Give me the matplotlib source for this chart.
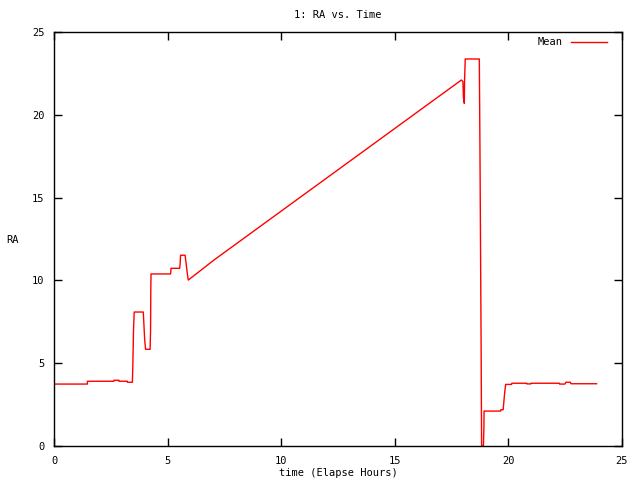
import numpy as np
import matplotlib
matplotlib.use("Agg")
import matplotlib.pyplot as plt

# Mean RA track (elapsed hours, RA hours)
hours = [0.0, 1.47, 1.47, 2.64, 2.64, 2.86, 2.86, 3.23, 3.23, 3.45,
         3.47, 3.50, 3.53, 3.93, 3.99, 4.03, 4.23, 4.25, 4.26, 4.27,
         5.13, 5.14, 5.15, 5.53, 5.55, 5.57, 5.77, 5.87, 5.91, 7.04, 17.93,
         18.0, 18.02, 18.06, 18.07, 18.1, 18.72, 18.75, 18.8, 18.82,
         18.9, 18.92, 18.93, 19.66, 19.67, 19.77, 19.8, 19.84, 19.88,
         20.14, 20.15, 20.8, 20.81, 20.99, 21.0, 22.24, 22.25, 22.49,
         22.53, 22.73, 22.75, 23.88]
ra_mean = [3.74, 3.74, 3.91, 3.91, 3.97, 3.97, 3.91, 3.91, 3.85, 3.85,
           4.89, 7.0, 8.09, 8.09, 6.44, 5.84, 5.84, 6.98, 9.26, 10.39,
           10.39, 10.49, 10.73, 10.73, 10.97, 11.52, 11.52, 10.4, 10.02, 11.23, 22.1,
           22.0, 21.06, 20.69, 22.0, 23.37, 23.37, 17.5, 5.8, 0.0,
           0.0, 1.0, 2.11, 2.11, 2.19, 2.19, 2.68, 3.28, 3.72,
           3.72, 3.79, 3.79, 3.75, 3.75, 3.79, 3.79, 3.74, 3.74,
           3.85, 3.85, 3.76, 3.76]

x_ticks = [0, 5, 10, 15, 20, 25]
y_ticks = [0, 5, 10, 15, 20, 25]

plt.rcParams["font.family"] = ["DejaVu Sans Mono"]
plt.rcParams["font.size"] = 7.5

fig = plt.figure(figsize=(6.4, 4.8), dpi=100)
ax = fig.add_axes([54 / 640, 34 / 480, 568 / 640, 414 / 480])

ax.plot(hours, ra_mean, color="red", linewidth=1.0, label="Mean")

ax.set_xlim(0, 25)
ax.set_ylim(0, 25)
ax.set_xticks(x_ticks)
ax.set_yticks(y_ticks)
ax.tick_params(direction="in", length=6, width=1, top=True, right=True, pad=7)
for s in ax.spines.values():
    s.set_linewidth(1.0)

ax.set_title("1: RA vs. Time", fontsize=7.5, pad=10)
ax.set_xlabel("time (Elapse Hours)", labelpad=2)
# y label sits horizontally near the left edge, as in gnuplot
fig.text(6 / 640, 1 - 240 / 480, "RA", ha="left", va="center")

ax.legend(loc="upper right", bbox_to_anchor=(0.981, 0.997), frameon=False,
          handlelength=3.5, markerfirst=False, borderaxespad=0,
          handletextpad=0.8)

fig.savefig("out.png", dpi=100)
